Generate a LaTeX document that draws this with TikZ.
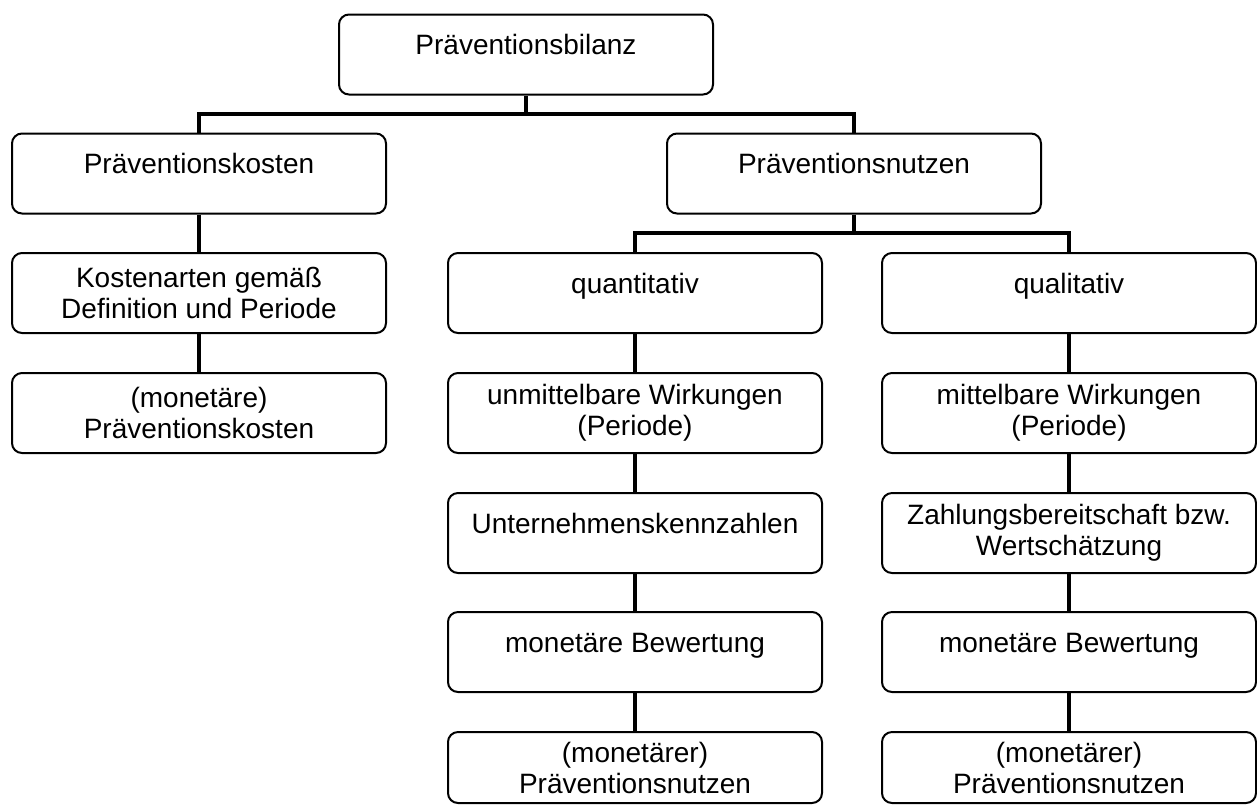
\documentclass[tikz,border=0pt]{standalone}
\usepackage{fontspec}
\setmainfont{Liberation Sans}
\usetikzlibrary{positioning}

\tikzset{
  box/.style={draw=black,line width=1pt,rounded corners=5pt,minimum width=187pt,
    minimum height=40pt,inner sep=0pt,align=center,font=\fontsize{14}{15.5}\selectfont},
  oneline/.style={text height=10pt,text depth=10pt},
  link/.style={line width=1.8pt}
}

\begin{document}
\begin{tikzpicture}[x=0.5pt,y=-0.5pt]
		\useasboundingbox (0,0) rectangle (1257,805);
		% top and first level
		\node[box,oneline] (bilanz) at (526,54.5) {Präventionsbilanz};
		\node[box,oneline] (kosten) at (199,173.5) {Präventionskosten};
		\node[box,oneline] (nutzen) at (854,173.5) {Präventionsnutzen};
		%% cost side
		\node[box] (kostenarten) at (199,293) {Kostenarten gemäß\\Definition und Periode};
		\node[box] (mkosten) at (199,413) {(monetäre)\\Präventionskosten};
		%% benefit side
		\node[box,oneline] (quanti) at (635,293) {quantitativ};
		\node[box,oneline] (quali) at (1069,293) {qualitativ};
		\node[box] (unmittel) at (635,413) {unmittelbare Wirkungen\\(Periode)};
		\node[box] (mittel) at (1069,413) {mittelbare Wirkungen\\(Periode)};
		\node[box,oneline] (kennz) at (635,533) {Unternehmenskennzahlen};
		\node[box] (zahlung) at (1069,533) {Zahlungsbereitschaft bzw.\\Wertschätzung};
		\node[box,oneline] (bewertA) at (635,652) {monetäre Bewertung};
		\node[box,oneline] (bewertB) at (1069,652) {monetäre Bewertung};
		\node[box,minimum height=35.5pt] (mnutzenA) at (635,767.5) {(monetärer)\\Präventionsnutzen};
		\node[box,minimum height=35.5pt] (mnutzenB) at (1069,767.5) {(monetärer)\\Präventionsnutzen};
		%% the branchings
		\coordinate (splitA) at (526,114);
		\coordinate (splitB) at (854,233);
		\draw[link] (bilanz.south) -- (splitA);
		\draw[link] (kosten.north) |- (splitA) -| (nutzen.north);
		\draw[link] (nutzen.south) -- (splitB);
		\draw[link] (quanti.north) |- (splitB) -| (quali.north);
		%% straight links
		\foreach \a/\b in {kosten/kostenarten,kostenarten/mkosten,quanti/unmittel,unmittel/kennz,
			kennz/bewertA,bewertA/mnutzenA,quali/mittel,mittel/zahlung,zahlung/bewertB,bewertB/mnutzenB}
			\draw[link] (\a) -- (\b);
\end{tikzpicture}
\end{document}
